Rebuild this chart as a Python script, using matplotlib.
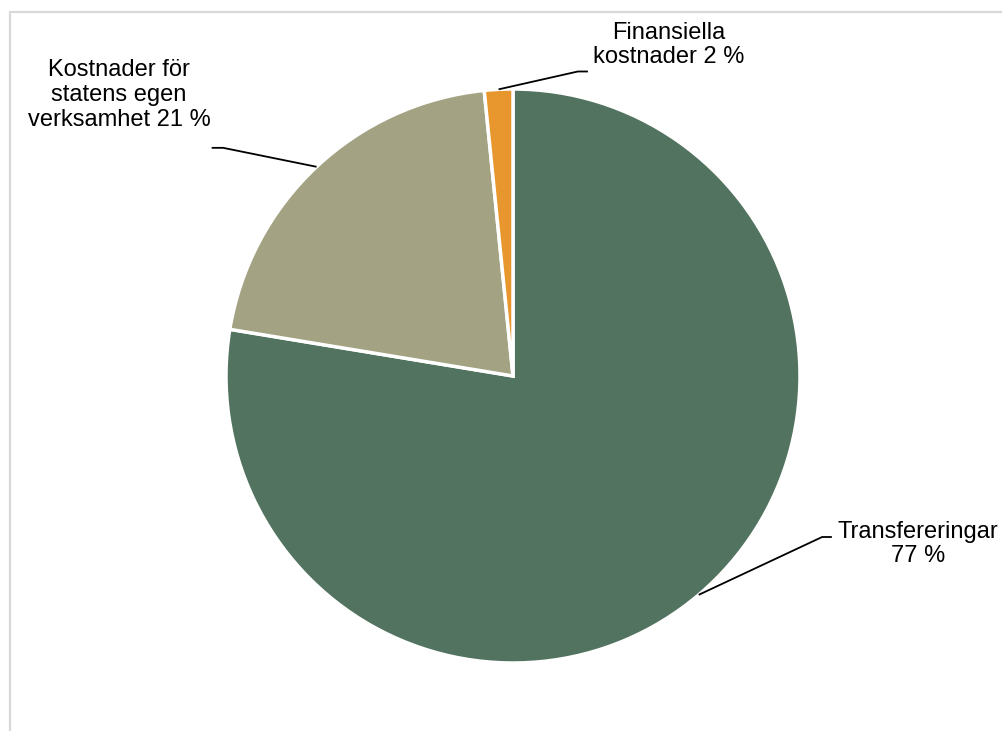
import numpy as np
import matplotlib.pyplot as plt
from matplotlib.patches import Rectangle

plt.rcParams['font.family'] = ['Liberation Sans', 'DejaVu Sans']

## Données
labels = ["Transfereringar\n77 %", "Kostnader för\nstatens egen\nverksamhet 21 %", "Finansiella\nkostnader 2 %"]
values = [77.6, 20.8, 1.6]
colors = ["#52735F", "#A3A282", "#E8972F"]

# positions des étiquettes (coude de la ligne, texte)
elbows = [(1.077, -0.561), (-1.01, 0.795), (0.226, 1.061)]
elbow_ends = [(1.111, -0.561), (-1.05, 0.795), (0.261, 1.061)]
text_pos = [(1.411, -0.585), (-1.373, 0.979), (0.543, 1.153)]

## Figure
W, H = 1003, 731
cx, cy, R = 513, 376, 287
fig = plt.figure(figsize=(W / 100, H / 100), dpi=100)
ax = fig.add_axes([0, 0, 1, 1])

# cadre gris clair
fig.patches.append(Rectangle((10 / W, -0.1), 1.2, 1.1 - 12 / H, transform=fig.transFigure,
                             fill=False, edgecolor="#D9D9D9", linewidth=1.6))

wedges, _ = ax.pie(values, colors=colors, startangle=90, counterclock=False, radius=1.0,
                   wedgeprops=dict(edgecolor="white", linewidth=2.5))

for w, lab, el, ee, tp in zip(wedges, labels, elbows, elbow_ends, text_pos):
    ang = np.deg2rad((w.theta1 + w.theta2) / 2)
    x0, y0 = np.cos(ang), np.sin(ang)
    ax.plot([x0, el[0], ee[0]], [y0, el[1], ee[1]], color="black", linewidth=1.3,
            solid_capstyle="butt")
    ax.text(tp[0], tp[1], lab, ha="center", va="center", fontsize=17, linespacing=1.15)

ax.set_xlim(-cx / R, (W - cx) / R)
ax.set_ylim((cy - H) / R, cy / R)
ax.set_aspect("equal")
ax.axis("off")

plt.savefig("out.png", dpi=100)
